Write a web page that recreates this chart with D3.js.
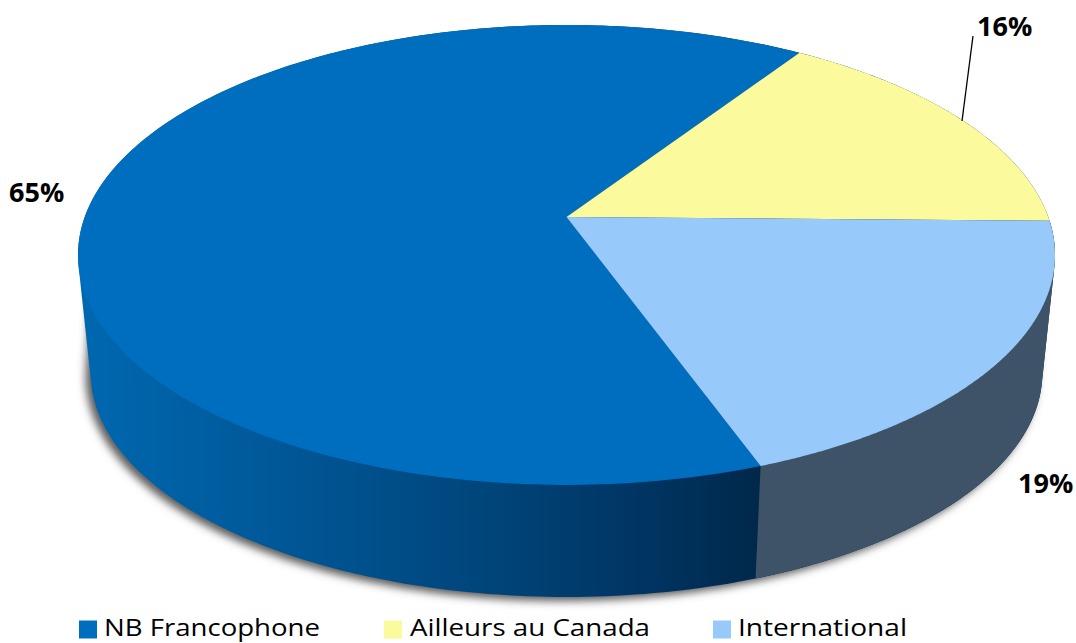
<!DOCTYPE html>
<html><head><meta charset="utf-8">
<script src="https://cdn.jsdelivr.net/npm/d3@7"></script>
<style>html,body{margin:0;padding:0;background:#fff;overflow:hidden}svg{display:block}text{font-family:"Open Sans","Noto Sans",sans-serif}</style>
</head><body><div id="c"></div>
<script>
const categories = ["NB Francophone", "Ailleurs au Canada", "International"];
const values = [64.8, 16, 19.2];
const labels = ["65%", "16%", "19%"];
const topColors = ["#006EBF", "#FBFA9C", "#97C9FA"];
const sideColor = "#3F5368";

const W = 1076, H = 643;
const svg = d3.select("#c").append("svg").attr("width", W).attr("height", H);
const defs = svg.append("defs");

// perspective projection of the pie disc
const apex = {x: 566.5, y: 217}, A = 481.8, B = 223.7, K = -0.165;
const depthScale = 0.974, depthDy = 119;
function project(angle, bottom) {
  const X = Math.sin(angle), Y = -Math.cos(angle), w = 1 + K * Y;
  const u = A * X / w, v = B * Y / w;
  return bottom ? [apex.x + u * depthScale, apex.y + v * depthScale + depthDy]
                : [apex.x + u, apex.y + v];
}
const startDeg = 160.1;
const pie = d3.pie().sort(null).startAngle(startDeg * Math.PI / 180).endAngle((startDeg + 360) * Math.PI / 180);
const arcs = pie(values);
const samples = (a0, a1, n = 240) => d3.range(0, n + 1).map(i => a0 + (a1 - a0) * i / n);
const line = d3.line();
const full = samples(0, 2 * Math.PI, 360);
const hullOf = pts => line(d3.polygonHull(pts)) + "Z";

// shadow: drum footprint pushed down and left, tucked in under the top face
const blur = defs.append("filter").attr("id", "sh").attr("x", "-10%").attr("y", "-10%").attr("width", "120%").attr("height", "120%");
blur.append("feGaussianBlur").attr("stdDeviation", 4);
const shadowPts = full.map(a => { const p = project(a, true); return [p[0] - 5, p[1] + 4]; })
  .concat(full.map(a => { const p = project(a, false); return [apex.x + (p[0] - apex.x) * 0.97, apex.y + (p[1] - apex.y) * 0.95]; }));
svg.append("path").attr("d", hullOf(shadowPts)).attr("fill", "#5c5c5c").attr("filter", "url(#sh)");

// side gradient
const grad = defs.append("linearGradient").attr("id", "sideBlue").attr("gradientUnits", "userSpaceOnUse")
  .attr("x1", 80).attr("x2", 760).attr("y1", 0).attr("y2", 0);
[[0, "#0068B0"], [0.3, "#005797"], [0.6, "#00457A"], [0.85, "#003360"], [1, "#00284A"]]
  .forEach(s => grad.append("stop").attr("offset", s[0]).attr("stop-color", s[1]));

// body of the drum, then the slate side on its own slice
svg.append("path")
  .attr("d", hullOf(full.map(a => project(a, false)).concat(full.map(a => project(a, true)))))
  .attr("fill", "url(#sideBlue)");
{
  const ang = samples(arcs[2].startAngle, arcs[2].endAngle);
  svg.append("path")
    .attr("d", hullOf(ang.map(a => project(a, false)).concat(ang.map(a => project(a, true)))))
    .attr("fill", sideColor);
}

// top slices
arcs.forEach((d, i) => {
  const pts = [[apex.x, apex.y]].concat(samples(d.startAngle, d.endAngle).map(a => project(a, false)));
  svg.append("path").attr("d", line(pts) + "Z").attr("fill", topColors[i]);
});

// data labels
const labelX = [9, 977, 1018], labelY = [202, 36, 493];
labels.forEach((t, i) => {
  svg.append("text").attr("x", labelX[i]).attr("y", labelY[i]).attr("font-size", 27).attr("font-weight", 700).attr("fill", "#000").text(t);
});
// leader line for the small slice
svg.append("line").attr("x1", 973).attr("y1", 36).attr("x2", 962).attr("y2", 121).attr("stroke", "#000").attr("stroke-width", 1.3);

// legend
const legendSwatch = [79, 384, 713], legendText = [104, 410, 738], legendWidth = [216, 240, 169];
categories.forEach((c, i) => {
  svg.append("rect").attr("x", legendSwatch[i]).attr("y", 620.5).attr("width", 18).attr("height", 18).attr("fill", topColors[i]);
  svg.append("text").attr("x", legendText[i]).attr("y", 635.8).attr("font-size", 24).attr("fill", "#000")
    .attr("textLength", legendWidth[i]).attr("lengthAdjust", "spacingAndGlyphs").text(c);
});
</script></body></html>
